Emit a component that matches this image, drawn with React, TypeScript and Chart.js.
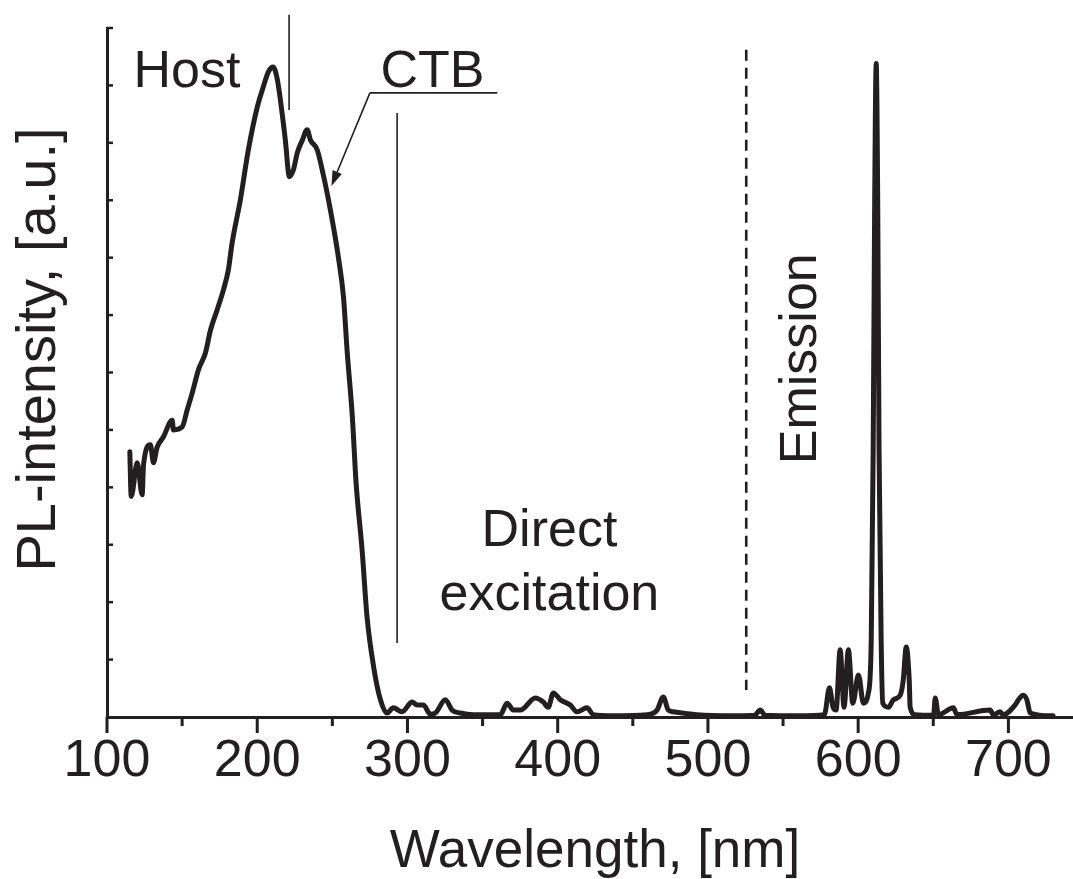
import React, { useEffect, useRef } from 'react';
import { Chart, registerables } from 'chart.js';

Chart.register(...registerables);

const INK = '#231f20';
const FONT = '"Liberation Sans", Arial, Helvetica, sans-serif';

// Excitation / emission spectrum (wavelength in nm, intensity in a.u.)
const wavelengths = [
  115.2, 116.1, 120.1, 123.4, 124.3, 128.9, 130.9, 133.4, 137.6, 143.4, 144.2, 150.0,
  153.4, 156.7, 160.9, 165.5, 168.9, 173.3, 177.5, 180.8, 183.3, 188.8, 194.1, 200.1,
  204.1, 207.5, 210.6, 213.4, 215.4, 218.7, 221.4, 224.1, 226.7, 230.1, 233.2, 235.4,
  239.9, 244.0, 247.4, 250.7, 254.0, 257.4, 259.8, 263.3, 265.8, 269.8, 273.1, 277.5,
  282.0, 286.4, 290.6, 296.4, 303.1, 306.4, 310.6, 315.2, 318.6, 325.2, 329.7, 335.2,
  343.9, 361.8, 366.3, 370.5, 375.1, 385.1, 390.4, 393.7, 397.1, 401.7, 408.4, 412.8,
  419.5, 423.7, 437.0, 459.4, 466.1, 470.3, 473.6, 476.9, 492.7, 514.8, 531.0, 534.8,
  538.0, 560.9, 577.5, 580.9, 583.3, 585.3, 588.0, 590.6, 593.5, 596.4, 600.2, 603.5,
  606.8, 608.7, 610.0, 611.0, 612.0, 613.0, 613.9, 615.3, 616.4, 620.2, 623.5, 628.0,
  630.0, 632.0, 634.0, 634.6, 638.0, 650.2, 651.3, 653.4, 663.4, 665.7, 687.8, 690.0,
  694.5, 696.5, 704.5, 706.7, 709.8, 712.3, 714.5, 729.8,
];
const intensities = [
  4.62, 3.84, 4.43, 3.87, 4.39, 4.74, 4.43, 4.70, 4.88, 5.17, 5.00, 5.05,
  5.35, 5.64, 6.05, 6.34, 6.74, 7.09, 7.44, 7.79, 8.26, 9.01, 9.88, 10.63,
  10.98, 11.24, 11.32, 11.10, 10.75, 10.05, 9.41, 9.53, 9.83, 10.05, 10.23, 10.05,
  9.88, 9.44, 9.01, 8.54, 8.01, 7.32, 6.39, 5.23, 4.08, 2.91, 1.74, 0.87,
  0.30, 0.07, 0.16, 0.09, 0.26, 0.21, 0.21, 0.05, 0.07, 0.30, 0.12, 0.07,
  0.04, 0.04, 0.24, 0.12, 0.12, 0.33, 0.26, 0.17, 0.42, 0.30, 0.21, 0.09,
  0.16, 0.04, 0.02, 0.04, 0.12, 0.35, 0.12, 0.09, 0.04, 0.02, 0.03, 0.12,
  0.03, 0.02, 0.04, 0.51, 0.17, 0.12, 1.17, 0.17, 1.17, 0.24, 0.73, 0.24,
  0.42, 1.34, 4.65, 9.0, 11.38, 9.0, 4.65, 1.34, 0.24, 0.17, 0.30, 0.38,
  0.64, 1.22, 0.64, 0.17, 0.04, 0.03, 0.33, 0.04, 0.16, 0.04, 0.12, 0.04,
  0.09, 0.04, 0.21, 0.30, 0.38, 0.30, 0.07, 0.02,
];

// Axes
const xMin = 100;
const xMax = 743;
const yMin = 0;
const yMax = 12;
const xMajorTicks = [100, 200, 300, 400, 500, 600, 700];
const xMinorTicks = [150, 250, 350, 450, 550, 650];
const yTicks = [1, 2, 3, 4, 5, 6, 7, 8, 9, 10, 11, 12];
const xAxisTitle = 'Wavelength, [nm]';
const yAxisTitle = 'PL-intensity, [a.u.]';

// Annotations (data units)
const hostLabel = { text: 'Host', x: 117.6, y: 10.98 };
const ctbLabel = { text: 'CTB', x: 282.0, y: 10.98 };
const ctbUnderline = { x1: 275.0, x2: 359.8, y: 10.87 };
const ctbArrowTip = { x: 249.4, y: 9.25 };
const hostDivider = { x: 221.2, y1: 12.23, y2: 10.57 };
const directDivider = { x: 293.1, y1: 10.52, y2: 1.29 };
const emissionDivider = { x: 525.5, y1: 11.62, y2: 0.47 };
const directLabel = { lines: ['Direct', 'excitation'], x: 394.5, y: [2.98, 1.86] };
const emissionLabel = { text: 'Emission', x: 572.1, y: 6.24 };
const yTitlePos = { y: 6.4 };

const annotationPlugin = {
  id: 'annotations',
  afterDraw(chart: any) {
    const { ctx, chartArea } = chart;
    const xs = chart.scales.x;
    const ys = chart.scales.y;
    const px = (v: number) => xs.getPixelForValue(v);
    const py = (v: number) => ys.getPixelForValue(v);
    const line = (x1: number, y1: number, x2: number, y2: number) => {
      ctx.beginPath();
      ctx.moveTo(x1, y1);
      ctx.lineTo(x2, y2);
      ctx.stroke();
    };
    ctx.save();
    ctx.strokeStyle = INK;
    ctx.fillStyle = INK;
    ctx.lineCap = 'butt';

    // axis ticks
    ctx.lineWidth = 3;
    for (const v of xMajorTicks) line(px(v), chartArea.bottom, px(v), chartArea.bottom + 16);
    for (const v of xMinorTicks) line(px(v), chartArea.bottom, px(v), chartArea.bottom + 9);
    ctx.lineWidth = 2.5;
    for (const v of yTicks) line(chartArea.left, py(v), chartArea.left + 6, py(v));

    // thin divider lines
    ctx.lineWidth = 1.6;
    line(px(hostDivider.x), py(hostDivider.y1), px(hostDivider.x), py(hostDivider.y2));
    line(px(directDivider.x), py(directDivider.y1), px(directDivider.x), py(directDivider.y2));

    // dashed emission divider
    ctx.lineWidth = 2.6;
    ctx.setLineDash([11, 7]);
    line(px(emissionDivider.x), py(emissionDivider.y1), px(emissionDivider.x), py(emissionDivider.y2));
    ctx.setLineDash([]);

    // CTB underline + arrow
    ctx.lineWidth = 1.6;
    const ux = px(ctbUnderline.x1);
    const uy = py(ctbUnderline.y);
    line(ux, uy, px(ctbUnderline.x2), uy);
    const tx = px(ctbArrowTip.x);
    const ty = py(ctbArrowTip.y);
    const ang = Math.atan2(ty - uy, tx - ux);
    const headLen = 15;
    const headHalf = 5;
    const bx = tx - headLen * Math.cos(ang);
    const by = ty - headLen * Math.sin(ang);
    line(ux, uy, bx, by);
    ctx.beginPath();
    ctx.moveTo(tx, ty);
    ctx.lineTo(bx + headHalf * Math.sin(ang), by - headHalf * Math.cos(ang));
    ctx.lineTo(bx - headHalf * Math.sin(ang), by + headHalf * Math.cos(ang));
    ctx.closePath();
    ctx.fill();

    // texts
    ctx.textBaseline = 'alphabetic';
    ctx.font = `52px ${FONT}`;
    ctx.textAlign = 'left';
    ctx.fillText(hostLabel.text, px(hostLabel.x), py(hostLabel.y));
    ctx.fillText(ctbLabel.text, px(ctbLabel.x), py(ctbLabel.y));
    ctx.textAlign = 'center';
    directLabel.lines.forEach((t, i) => ctx.fillText(t, px(directLabel.x), py(directLabel.y[i])));

    ctx.save();
    ctx.translate(px(emissionLabel.x), py(emissionLabel.y));
    ctx.rotate(-Math.PI / 2);
    ctx.textAlign = 'center';
    ctx.fillText(emissionLabel.text, 0, 0);
    ctx.restore();

    // axis titles
    ctx.font = `53px ${FONT}`;
    ctx.textAlign = 'center';
    ctx.fillText(xAxisTitle, (chartArea.left + chartArea.right) / 2 + 5, 867);

    ctx.save();
    ctx.font = `56px ${FONT}`;
    ctx.translate(55, py(yTitlePos.y));
    ctx.rotate(-Math.PI / 2);
    ctx.textAlign = 'center';
    ctx.fillText(yAxisTitle, 0, 0);
    ctx.restore();

    ctx.restore();
  },
};

export default function App() {
  const canvasRef = useRef<HTMLCanvasElement | null>(null);

  useEffect(() => {
    document.body.style.margin = '0';
    const canvas = canvasRef.current;
    if (!canvas) return;
    const points = wavelengths.map((w, i) => ({ x: w, y: intensities[i] }));
    const chart = new Chart(canvas, {
      type: 'line',
      data: {
        datasets: [
          {
            data: points,
            borderColor: INK,
            borderWidth: 5,
            pointRadius: 0,
            fill: false,
            cubicInterpolationMode: 'monotone',
            borderJoinStyle: 'round',
            borderCapStyle: 'round',
          },
        ],
      },
      options: {
        animation: false,
        responsive: true,
        maintainAspectRatio: false,
        devicePixelRatio: 1,
        layout: { padding: { top: 28, right: 0, left: 0, bottom: 0 } },
        plugins: { legend: { display: false }, tooltip: { enabled: false } },
        scales: {
          x: {
            type: 'linear',
            min: xMin,
            max: xMax,
            grid: { display: false, drawTicks: false },
            border: { display: true, color: INK, width: 3 },
            ticks: {
              stepSize: 100,
              includeBounds: false,
              autoSkip: false,
              maxRotation: 0,
              padding: 13,
              color: INK,
              font: { family: FONT, size: 52 },
              callback: (v: any) => String(v),
            },
            afterFit: (s: any) => {
              s.height = 162;
            },
          },
          y: {
            type: 'linear',
            min: yMin,
            max: yMax,
            grid: { display: false, drawTicks: false },
            border: { display: true, color: INK, width: 3 },
            ticks: { display: false },
            afterFit: (s: any) => {
              s.width = 107;
            },
          },
        },
      },
      plugins: [annotationPlugin],
    } as any);
    return () => chart.destroy();
  }, []);

  return (
    <div style={{ position: 'absolute', left: 0, top: 0, width: 1073, height: 879, background: '#fff' }}>
      <canvas ref={canvasRef} />
    </div>
  );
}
